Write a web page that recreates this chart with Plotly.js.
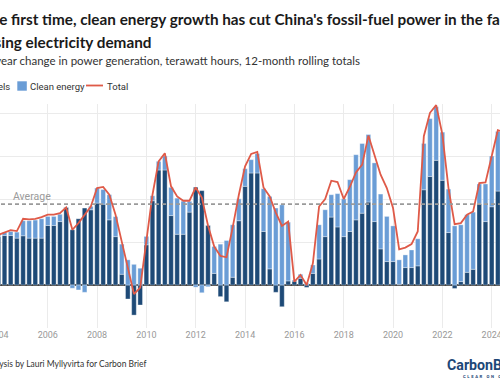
<!DOCTYPE html>
<html><head><meta charset="utf-8">
<script src="https://cdn.plot.ly/plotly-3.0.1.min.js"></script>
<style>
html,body{margin:0;padding:0;background:#fff;}
#wrap{position:relative;width:500px;height:383px;overflow:hidden;background:#fff;}
#chart{position:absolute;left:-100px;top:0;width:700px;height:383px;}
</style></head><body>
<div id="wrap"><div id="chart"></div></div>
<script>
// Quarterly points (12-month rolling totals), year-on-year change, TWh
const quarters = [
 "2004-01","2004-04","2004-07","2004-10","2005-01","2005-04","2005-07","2005-10",
 "2006-01","2006-04","2006-07","2006-10","2007-01","2007-04","2007-07","2007-10",
 "2008-01","2008-04","2008-07","2008-10","2009-01","2009-04","2009-07","2009-10",
 "2010-01","2010-04","2010-07","2010-10","2011-01","2011-04","2011-07","2011-10",
 "2012-01","2012-04","2012-07","2012-10","2013-01","2013-04","2013-07","2013-10",
 "2014-01","2014-04","2014-07","2014-10","2015-01","2015-04","2015-07","2015-10",
 "2016-01","2016-04","2016-07","2016-10","2017-01","2017-04","2017-07","2017-10",
 "2018-01","2018-04","2018-07","2018-10","2019-01","2019-04","2019-07","2019-10",
 "2020-01","2020-04","2020-07","2020-10","2021-01","2021-04","2021-07","2021-10",
 "2022-01","2022-04","2022-07","2022-10","2023-01","2023-04","2023-07","2023-10",
 "2024-01","2024-04","2024-07"
];
const fossilFuels = [
 225,230,230,218, 229,218,218,218, 277,277,295,361, 257,308,358,350,
 381,376,303,225, 50,-65,-140,-93, 187,392,535,535, 323,236,236,339,
 455,439,277,54, -54,-78,36,299, 459,521,521,249, 75,-34,-101,19,
 18,31,-11,54, 121,225,316,270, 225,249,303,334, 386,295,168,109,
 109,3,81,81, 89,443,505,580, 487,244,-16,16, 59,73,379,295,
 364,437,440
];
const cleanEnergy = [
 8,14,19,28, 70,81,84,90, 42,42,34,2, -15,-23,-34,16,
 70,68,117,93, 140,117,96,78, 39,23,40,65, 131,168,154,50,
 -10,-36,-8,125, 190,207,244,102, 82,62,90,199, 337,358,373,273,
 5,19,8,39, 159,125,104,155, 176,241,303,324, 314,273,255,210,
 166,114,59,82, 126,215,269,249, 224,202,275,264, 268,266,91,175,
 236,277,270
];
const totalChange = [
 233,244,255,251, 308,305,308,316, 327,327,334,361, 257,288,327,365,
 451,456,420,327, 202,75,-42,-12, 218,420,575,613, 459,412,392,392,
 454,407,277,179, 135,129,267,420, 552,610,619,454, 412,337,275,295,
 16,47,0,101, 365,400,485,479, 400,456,524,560, 695,599,513,451,
 358,166,174,190, 249,692,801,837, 700,451,283,288, 327,342,474,477,
 602,720,712
];
const averageValue = 376;
const seriesNames = ["Fossil fuels","Clean energy","Total"];
const colors = {fossil:"#1e4a77", clean:"#6a9dd6", total:"#df5a48"};

// ---- page geometry (chart is shown cropped, as in the reference) ----
const OFF = 100, ML = 80, MR = 80, MT = 104, MB = 55, W = 700, H = 383;
const PW = W - ML - MR, PH = H - MT - MB;
const px = a => (a + OFF - ML) / PW;          // visible-pixel x -> paper x
const py = a => (H - MB - a) / PH;            // visible-pixel y -> paper y
const cv = document.createElement("canvas").getContext("2d");
function tw(t, size, weight, fam){ cv.font = (weight||"normal")+" "+size+"px "+fam; return cv.measureText(t).width; }

const titleFont = {family:"Lato", size:15.3, weight:700, color:"#1a1a1a"};
const subFont = {family:"Lato", size:11.5, color:"#333"};
const legFont = {family:"Roboto", size:9.5, color:"#333"};
const footFont = {family:"Lato", size:8.5, color:"#333"};

function cropAnn(full, prefix, visStart, yc, font){
  const w = tw(prefix, font.size, font.weight||"normal", font.family);
  return {text: full, xref:"paper", yref:"paper", x: px(visStart - w), y: py(yc),
    xanchor:"left", yanchor:"middle", showarrow:false, align:"left",
    borderpad:0, borderwidth:0, font: font};
}

const annotations = [
  cropAnn("For the first time, clean energy growth has cut China's fossil-fuel power in the face of", "For th", -0.5, 19, titleFont),
  cropAnn("rising electricity demand", "ris", 1.5, 42, titleFont),
  cropAnn("Year-on-year change in power generation, terawatt hours, 12-month rolling totals", "Year-on-y", 1, 60, subFont),
  cropAnn("Source: Analysis by Lauri Myllyvirta for Carbon Brief", "Source: Anal", 0, 364, footFont),
];
// legend (hand laid out)
const fossilW = tw(seriesNames[0], legFont.size, "normal", legFont.family);
const fossilTextX = 10.5 - fossilW;
annotations.push({text:seriesNames[0], xref:"paper", yref:"paper", x:px(fossilTextX), y:py(86), xanchor:"left", yanchor:"middle", showarrow:false, borderpad:0, borderwidth:0, font:legFont});
annotations.push({text:seriesNames[1], xref:"paper", yref:"paper", x:px(29.5), y:py(86), xanchor:"left", yanchor:"middle", showarrow:false, borderpad:0, borderwidth:0, font:legFont});
annotations.push({text:seriesNames[2], xref:"paper", yref:"paper", x:px(107), y:py(86), xanchor:"left", yanchor:"middle", showarrow:false, borderpad:0, borderwidth:0, font:legFont});
// Average label
annotations.push({text:"Average", xref:"paper", yref:"y", x:px(13), y:averageValue, xanchor:"left", yanchor:"bottom", yshift:1, showarrow:false, borderpad:0, borderwidth:0, font:{family:"Roboto", size:10.5, color:"#9a9a9a"}});
// logo
annotations.push({text:"CarbonBrief", xref:"paper", yref:"paper", x:px(447), y:py(364.5), xanchor:"left", yanchor:"middle", showarrow:false, borderpad:0, borderwidth:0, font:{family:"Roboto", size:14.2, weight:700, color:"#1d4777"}});
annotations.push({text:"<span style=\"letter-spacing:1.6px\">CLEAR ON CLIMATE</span>", xref:"paper", yref:"paper", x:px(463), y:py(376), xanchor:"left", yanchor:"middle", showarrow:false, borderpad:0, borderwidth:0, font:{family:"Roboto", size:4.2, weight:700, color:"#1d4777"}});

const shapes = [
  {type:"line", xref:"paper", yref:"y", x0:0, x1:1, y0:averageValue, y1:averageValue, layer:"above", line:{color:"#9a9a9a", width:1.8, dash:"4px,3px"}},
  {type:"rect", xref:"paper", yref:"paper", x0:px(fossilTextX-11.5), x1:px(fossilTextX-2), y0:py(90.7), y1:py(81.3), fillcolor:colors.fossil, line:{width:0}},
  {type:"rect", xref:"paper", yref:"paper", x0:px(17.3), x1:px(26.8), y0:py(90.7), y1:py(81.3), fillcolor:colors.clean, line:{width:0}},
  {type:"line", xref:"paper", yref:"paper", x0:px(86), x1:px(103), y0:py(85.5), y1:py(85.5), line:{color:colors.total, width:1.8}},
];

const traces = [
  {type:"bar", name:seriesNames[0], x:quarters, y:fossilFuels, marker:{color:colors.fossil, line:{color:"rgba(255,255,255,0.55)", width:0.6}}},
  {type:"bar", name:seriesNames[1], x:quarters, y:cleanEnergy, marker:{color:colors.clean, line:{color:"rgba(255,255,255,0.55)", width:0.6}}},
  {type:"scatter", mode:"lines", name:seriesNames[2], x:quarters, y:totalChange, line:{color:colors.total, width:1.8}}
];

const layout = {
  width:W, height:H, margin:{l:ML, r:MR, t:MT, b:MB},
  paper_bgcolor:"#fff", plot_bgcolor:"#fff",
  barmode:"relative", bargap:0.24, showlegend:false, hovermode:false,
  xaxis:{type:"date", range:["2003-04-04","2025-02-23"], dtick:"M24", tick0:"2004-01-01", tickformat:"%Y",
         showgrid:true, gridcolor:"#ebebeb", gridwidth:1, zeroline:false, showline:false, ticks:"",
         tickfont:{family:"Roboto", size:9, color:"#999"}},
  yaxis:{range:[-200, 842], dtick:200, tick0:0, showticklabels:false, showgrid:true, gridcolor:"#ebebeb", gridwidth:1,
         zeroline:true, zerolinecolor:"#444", zerolinewidth:1.4, showline:false, ticks:""},
  annotations:annotations, shapes:shapes
};
Plotly.newPlot("chart", traces, layout, {staticPlot:true, displayModeBar:false});
</script>
</body></html>
